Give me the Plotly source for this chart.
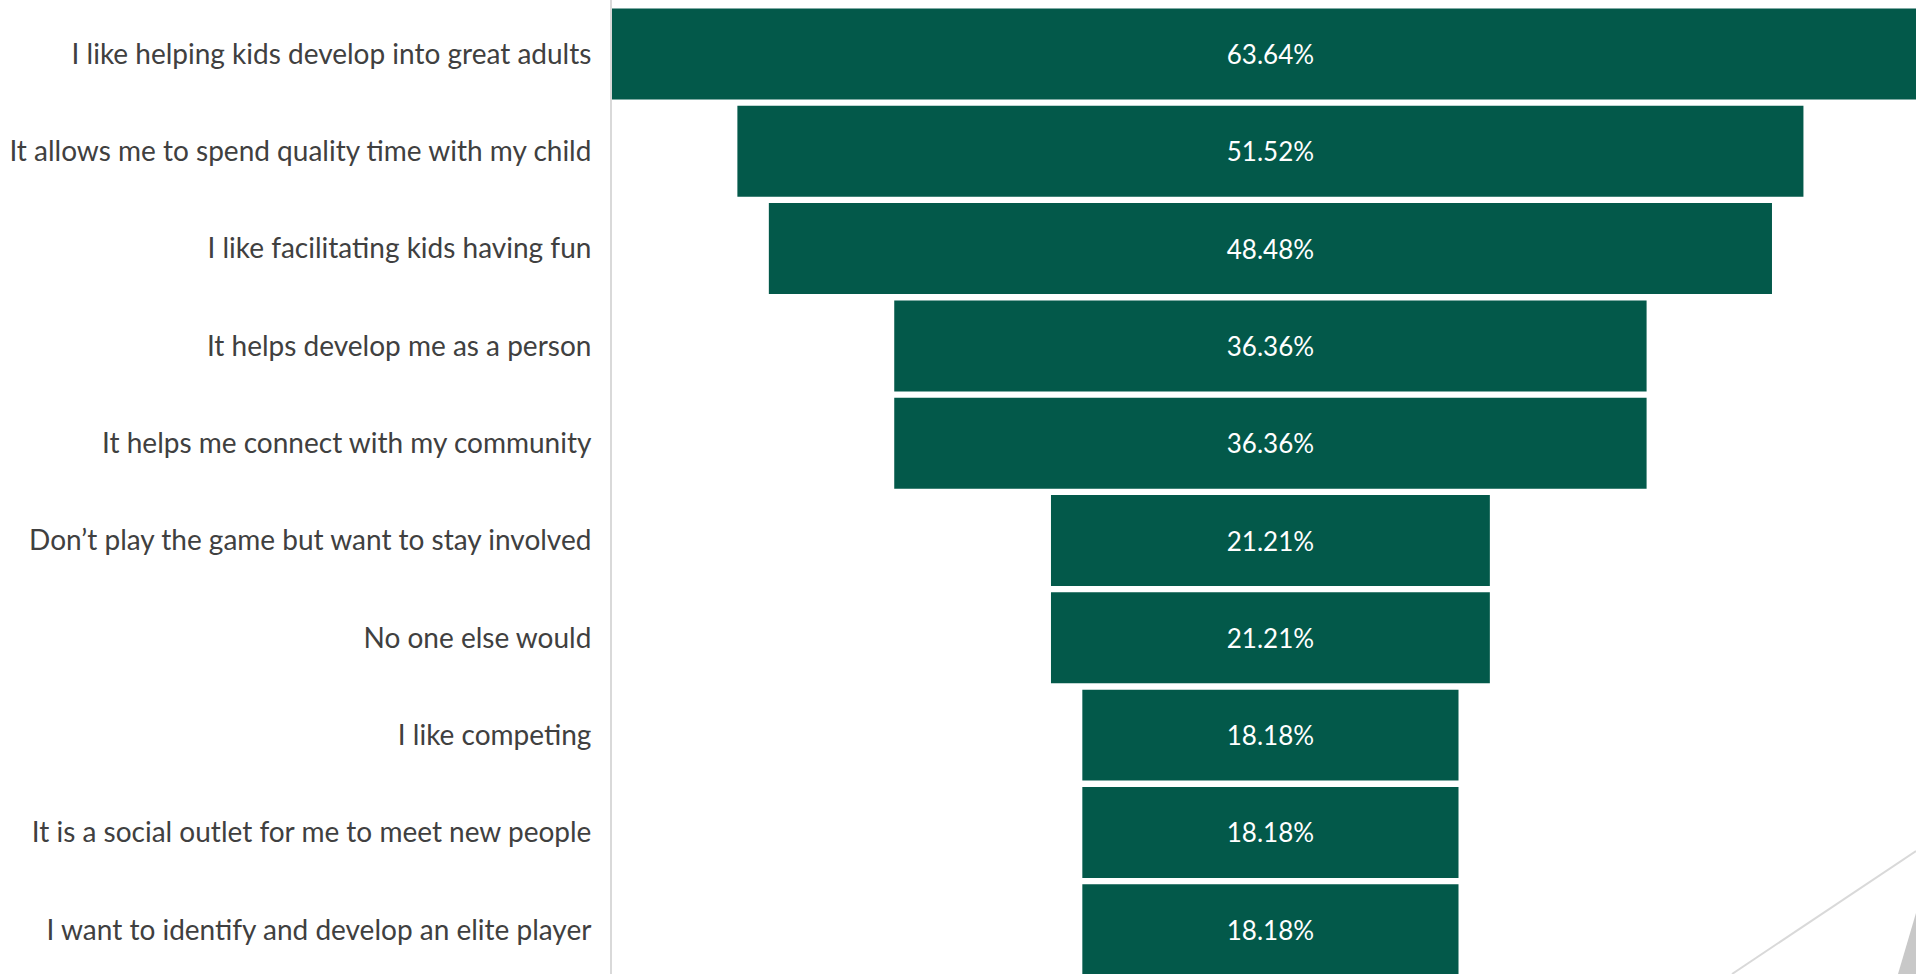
import plotly.graph_objects as go

categories = [
    "I like helping kids develop into great adults",
    "It allows me to spend quality time with my child",
    "I like facilitating kids having fun",
    "It helps develop me as a person",
    "It helps me connect with my community",
    "Don\u2019t play the game but want to stay involved",
    "No one else would",
    "I like competing",
    "It is a social outlet for me to meet new people",
    "I want to identify and develop an elite player",
]
values = [63.64, 51.52, 48.48, 36.36, 36.36, 21.21, 21.21, 18.18, 18.18, 18.18]
labels = [f"{v:.2f}%" for v in values]

GREEN = "#03594A"
FONT = "Lato"

fig = go.Figure(
    go.Funnel(
        y=categories,
        x=values,
        text=labels,
        textinfo="text",
        textposition="inside",
        insidetextanchor="middle",
        insidetextfont=dict(color="white", size=26, family=FONT),
        marker=dict(color=GREEN, line=dict(width=0)),
        connector=dict(visible=False),
        hoverinfo="skip",
    )
)

W, H = 1916, 974
L, R, T, B = 612, 0, 0, 0
pw, ph = W - L - R, H - T - B

def px(x):
    return (x - L) / pw

def py(y):
    return (H - B - y) / ph

fig.update_layout(
    width=W,
    height=H,
    margin=dict(l=L, r=R, t=T, b=B),
    paper_bgcolor="white",
    plot_bgcolor="white",
    funnelgap=0.065,
    showlegend=False,
    font=dict(family=FONT, color="#404040", size=28),
    xaxis=dict(visible=False, range=[-31.82, 31.2], fixedrange=True),
    yaxis=dict(
        range=[9.455, -0.555],
        showline=True,
        linecolor="#d9d9d9",
        linewidth=2,
        showgrid=False,
        ticks="",
        ticklabelstandoff=13,
        tickfont=dict(size=28, color="#404040", family=FONT),
    ),
    shapes=[
        dict(type="line", xref="paper", yref="paper",
             x0=px(1732), y0=py(974), x1=px(1916), y1=py(851),
             line=dict(color="#d9d9d9", width=2)),
        dict(type="path", xref="paper", yref="paper",
             path=f"M {px(1898)} {py(974)} L {px(1916)} {py(913)} L {px(1916)} {py(974)} Z",
             fillcolor="#c8c8c8", line=dict(width=0)),
    ],
)

fig.write_html(
    "out.html",
    config={"displayModeBar": False},
    post_script="document.body.style.margin='0';document.body.style.overflow='hidden';",
)
